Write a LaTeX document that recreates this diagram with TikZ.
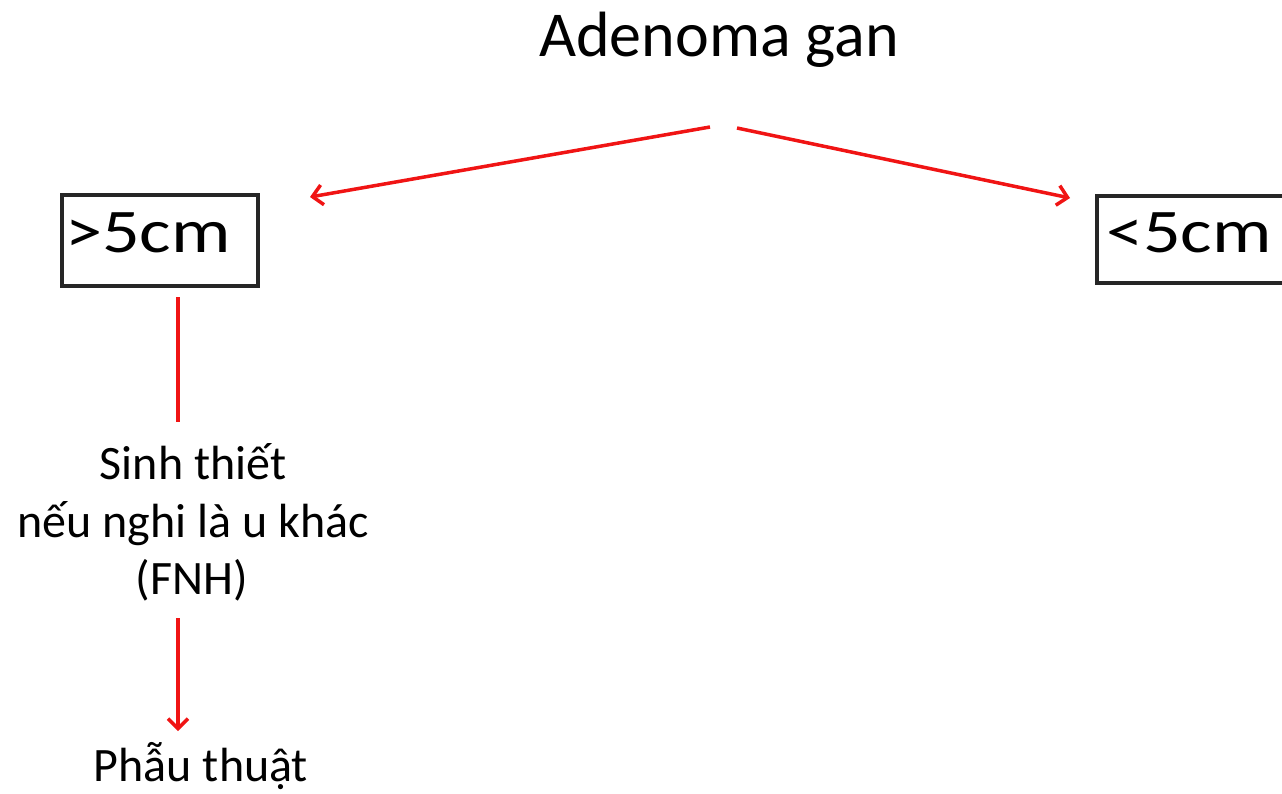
\documentclass[tikz,border=0pt]{standalone}
\usepackage{fontspec}
\setmainfont{Carlito}
\usetikzlibrary{arrows.meta}
\definecolor{arrowred}{RGB}{240,20,20}
\tikzset{
  flow/.style={draw=arrowred, line width=3.5pt},
  flowarrow/.style={flow, -{Straight Barb[length=10pt,width=20pt,line width=3.5pt]}},
  boxline/.style={draw=black!85, line width=3.5pt},
  txt/.style={inner sep=0pt, anchor=base},
  bigtxt/.style={txt, font=\fontsize{64}{70}\selectfont},
  midtxt/.style={txt, font=\fontsize{48}{56}\selectfont},
}
\newcommand{\widetext}[1]{\scalebox{1.2}[1]{#1}}
\begin{document}
\begin{tikzpicture}[x=1pt,y=-1pt]
  \useasboundingbox (0,0) rectangle (1282,793);
  \clip (0,0) rectangle (1282,793);

  % title
  \node[bigtxt] (title) at (719,56) {Adenoma gan};
  \coordinate (splitL) at (710,127);
  \coordinate (splitR) at (737,128);

  % size boxes
  \draw[boxline] (62,195) rectangle (258,286);
  \node[txt, font=\fontsize{62}{70}\selectfont] (big) at (148,252) {\widetext{>5cm}};
  \coordinate (bigIn) at (310,197);
  \draw[boxline] (1097,196) rectangle (1300,283);
  \node[txt, font=\fontsize{62}{70}\selectfont, anchor=base west] (small) at (1106,252) {\widetext{<5cm}};
  \coordinate (smallIn) at (1070,198);

  % branches from the title
  \draw[flowarrow] (splitL) -- (bigIn);
  \draw[flowarrow] (splitR) -- (smallIn);

  % left branch
  \coordinate (bigOut) at (178,297);
  \node[midtxt] (biopsyA) at (193,479) {Sinh thiết};
  \node[midtxt] (biopsyB) at (193,537) {nếu nghi là u khác};
  \node[midtxt] (biopsyC) at (192,594) {(FNH)};
  \coordinate (biopsyIn) at (178,422);
  \coordinate (biopsyOut) at (178,618);
  \node[midtxt] (surgery) at (201,781) {Phẫu thuật};
  \coordinate (surgeryIn) at (178,731);

  \draw[flow] (bigOut) -- (biopsyIn);
  \draw[flowarrow] (biopsyOut) -- (surgeryIn);
\end{tikzpicture}
\end{document}
